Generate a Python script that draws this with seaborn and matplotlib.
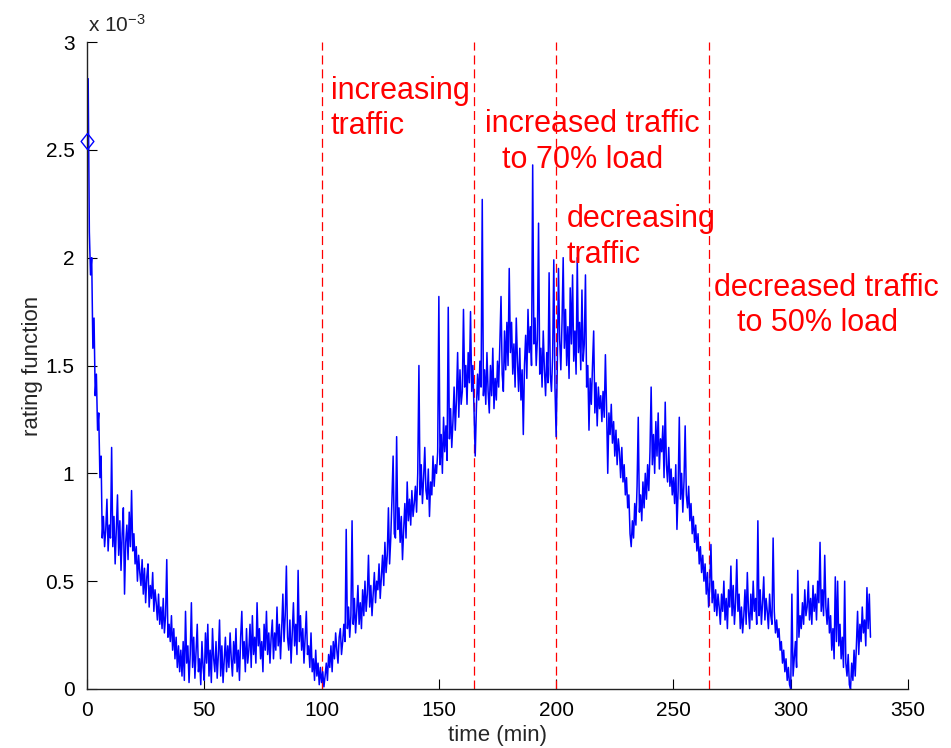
import numpy as np
import pandas as pd
import matplotlib
matplotlib.use("Agg")
import matplotlib.pyplot as plt
import seaborn as sns
from matplotlib.ticker import FuncFormatter

# rating function values, in units of 1e-5, one every 0.5 min
rating_e5 = [
    254, 283, 212, 192, 200, 158, 172, 136, 146, 120, 128, 98, 108, 70, 80, 66, 74, 88, 64, 76,
    70, 112, 66, 80, 58, 74, 90, 62, 78, 55, 72, 84, 44, 68, 76, 60, 82, 66, 92, 64,
    72, 58, 66, 50, 62, 54, 48, 60, 44, 56, 40, 52, 58, 38, 48, 42, 54, 36, 46, 40,
    32, 44, 30, 38, 28, 42, 26, 34, 60, 24, 30, 22, 34, 18, 28, 14, 24, 10, 20, 8,
    18, 6, 22, 4, 36, 12, 20, 3, 16, 40, 10, 24, 5, 18, 30, 8, 14, 2, 22, 10,
    4, 26, 12, 30, 6, 18, 3, 28, 14, 8, 22, 5, 16, 32, 6, 20, 3, 14, 24, 8,
    20, 10, 26, 14, 6, 22, 12, 28, 8, 18, 4, 24, 36, 14, 22, 8, 28, 12, 18, 30,
    10, 34, 16, 24, 12, 40, 20, 28, 14, 22, 8, 30, 18, 36, 16, 26, 12, 24, 32, 14,
    26, 18, 38, 20, 30, 14, 28, 44, 22, 34, 57, 24, 18, 32, 12, 26, 40, 20, 30, 16,
    55, 22, 34, 18, 28, 12, 24, 36, 16, 20, 10, 26, 8, 14, 4, 18, 6, 12, 2, 10,
    3, 8, 1, 6, 12, 4, 16, 10, 20, 8, 22, 14, 26, 18, 12, 24, 28, 16, 22, 30,
    22, 74, 28, 38, 24, 34, 78, 30, 42, 26, 36, 48, 30, 40, 28, 46, 34, 50, 36, 44,
    62, 38, 48, 34, 44, 54, 40, 50, 46, 58, 42, 52, 62, 48, 68, 54, 62, 84, 58, 70,
    88, 108, 72, 70, 117, 74, 84, 68, 80, 60, 74, 86, 70, 96, 78, 88, 76, 92, 80, 86,
    94, 82, 100, 150, 90, 104, 86, 98, 112, 92, 88, 102, 80, 96, 90, 108, 94, 104, 100, 110,
    182, 104, 118, 100, 126, 110, 122, 106, 177, 116, 130, 112, 124, 140, 120, 134, 156, 126, 148, 132,
    138, 176, 140, 150, 132, 156, 142, 175, 138, 150, 128, 108, 130, 146, 134, 152, 140, 227, 136, 148,
    132, 156, 138, 128, 150, 136, 158, 130, 144, 134, 152, 140, 160, 182, 146, 138, 166, 148, 170, 150,
    195, 156, 170, 146, 160, 140, 172, 152, 138, 158, 134, 148, 118, 150, 164, 144, 176, 156, 168, 150,
    243, 160, 172, 150, 162, 216, 146, 158, 140, 166, 148, 136, 156, 142, 193, 146, 138, 154, 199, 140,
    117, 150, 195, 162, 148, 170, 200, 158, 176, 150, 168, 144, 186, 160, 192, 152, 166, 146, 200, 156,
    170, 148, 185, 152, 160, 192, 140, 150, 120, 144, 132, 150, 166, 128, 142, 122, 140, 130, 136, 124,
    138, 126, 155, 130, 100, 128, 118, 132, 114, 124, 108, 120, 104, 116, 110, 98, 112, 96, 104, 90,
    98, 84, 90, 72, 66, 78, 70, 86, 76, 94, 126, 82, 90, 78, 96, 84, 100, 88, 104, 92,
    110, 140, 104, 118, 100, 124, 108, 128, 102, 116, 110, 122, 98, 133, 104, 96, 112, 94, 102, 90,
    98, 86, 104, 74, 92, 126, 88, 100, 82, 96, 122, 90, 84, 94, 78, 86, 72, 80, 68, 76,
    64, 72, 58, 66, 54, 62, 50, 58, 44, 54, 38, 48, 67, 40, 50, 36, 46, 34, 44, 38,
    30, 44, 36, 50, 32, 42, 28, 46, 38, 57, 34, 48, 30, 40, 60, 36, 44, 28, 38, 26,
    34, 46, 30, 54, 36, 28, 44, 32, 50, 36, 42, 30, 78, 34, 46, 30, 40, 52, 32, 42,
    36, 28, 44, 34, 30, 70, 36, 26, 32, 24, 28, 18, 22, 12, 18, 8, 14, 4, 10, 2,
    0, 44, 6, 14, 22, 10, 55, 24, 34, 28, 40, 30, 46, 34, 38, 50, 32, 42, 30, 48,
    36, 44, 32, 50, 40, 68, 36, 46, 34, 62, 38, 30, 42, 26, 34, 18, 28, 14, 52, 22,
    50, 20, 30, 14, 24, 10, 50, 12, 6, 16, 2, 0, 12, 4, 18, 6, 20, 36, 16, 30,
    22, 38, 26, 32, 20, 47, 28, 44, 24,
]
sample_step_min = 0.5

phase_bounds = [100, 165, 200, 265]

annotations = [
    ("increasing", 104.0, 2.735e-3),
    ("traffic", 104.0, 2.573e-3),
    ("increased traffic", 169.7, 2.584e-3),
    ("to 70% load", 176.8, 2.415e-3),
    ("decreasing", 204.5, 2.143e-3),
    ("traffic", 204.5, 1.975e-3),
    ("decreased traffic", 267.3, 1.822e-3),
    ("to 50% load", 277.1, 1.660e-3),
]

x_ticks = [0, 50, 100, 150, 200, 250, 300, 350]
y_ticks = [0, 0.5e-3, 1.0e-3, 1.5e-3, 2.0e-3, 2.5e-3, 3.0e-3]

time_min = np.arange(len(rating_e5)) * sample_step_min
rating = np.array(rating_e5, dtype=float) * 1e-5
df = pd.DataFrame({"time": time_min, "rating": rating})

sns.set_style("white")
plt.rcParams["font.family"] = ["Liberation Sans", "DejaVu Sans"]
plt.rcParams["mathtext.fontset"] = "custom"
plt.rcParams["mathtext.rm"] = "Liberation Sans"
plt.rcParams["mathtext.it"] = "Liberation Sans:italic"
plt.rcParams["mathtext.default"] = "regular"
plt.rcParams["lines.scale_dashes"] = False

fig = plt.figure(figsize=(9.51, 7.48), dpi=100)
ax = fig.add_axes([87 / 951, 1 - 689 / 748, (908 - 87) / 951, (689 - 42) / 748])

for xb in phase_bounds:
    ax.axvline(xb, color="#ff0000", linestyle=(0, (6.5, 3.5)), linewidth=0.9, zorder=1)

sns.lineplot(data=df, x="time", y="rating", ax=ax, color="#0000ff",
             linewidth=1.1, estimator=None, sort=False, zorder=2)

diamond = [(0, 1), (0.8, 0), (0, -1), (-0.8, 0), (0, 1)]
ax.plot(time_min[:1], rating[:1], linestyle="none", marker=diamond, markersize=11.5,
        markerfacecolor="none", markeredgecolor="#0000ff", markeredgewidth=1.0,
        clip_on=False, zorder=3)

for txt, xx, yy in annotations:
    ax.text(xx, yy, txt, color="#ff0000", fontsize=22, va="baseline", ha="left")

ax.set_xlim(0, 350)
ax.set_ylim(0, 3e-3)
ax.set_xticks(x_ticks)
ax.set_yticks(y_ticks)
ax.yaxis.set_major_formatter(FuncFormatter(lambda v, p: f"{v * 1e3:g}"))
ax.tick_params(direction="in", length=7, width=0.8, labelsize=15, pad=9,
               colors="black", bottom=True, left=True)
for s in ["top", "right"]:
    ax.spines[s].set_visible(False)
for s in ["left", "bottom"]:
    ax.spines[s].set_color("#222222")
    ax.spines[s].set_linewidth(1.0)

ax.set_xlabel("time (min)", fontsize=16, labelpad=3)
ax.set_ylabel("rating function", fontsize=16, labelpad=2)

fig.text(88 / 951, 1 - 32 / 748, r"x 10$^{-3}$", fontsize=15, va="baseline", ha="left")

fig.savefig("out.png", dpi=100)
